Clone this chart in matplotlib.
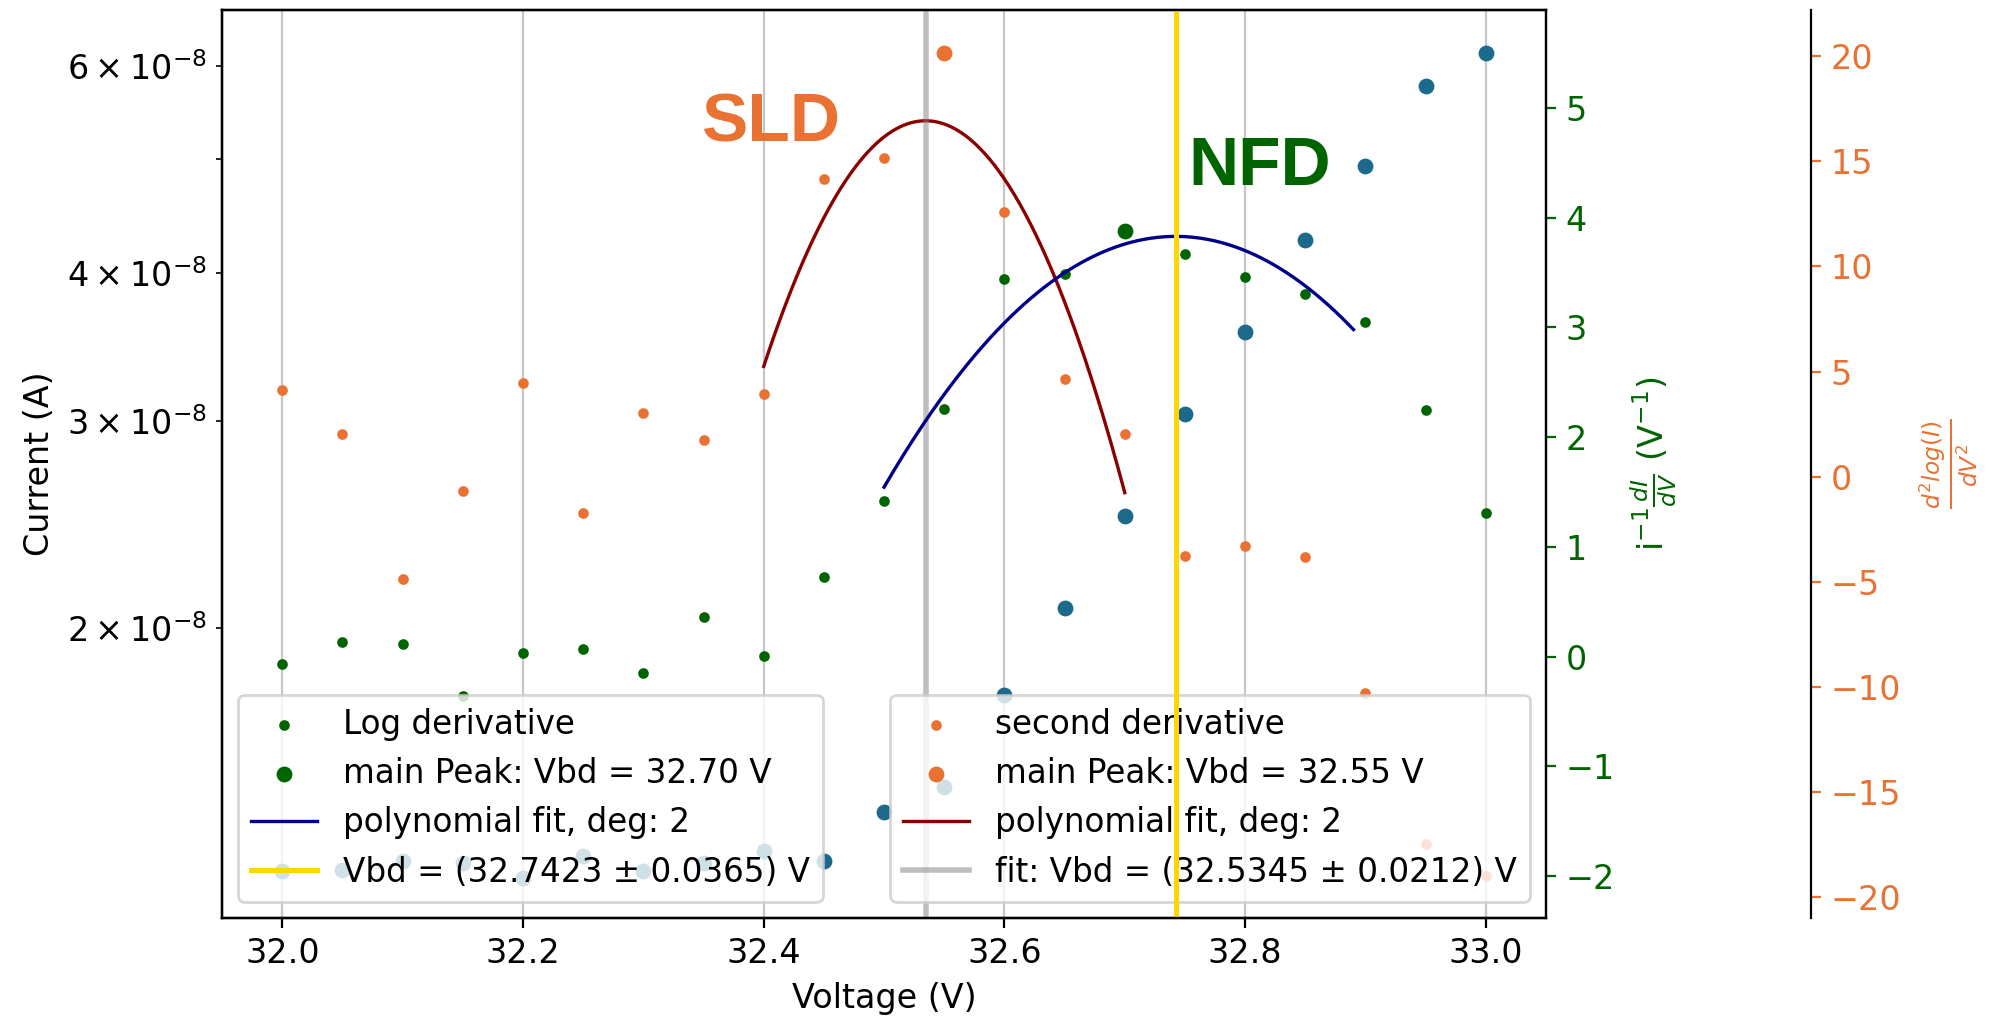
import numpy as np
import matplotlib
matplotlib.use("Agg")
import matplotlib.pyplot as plt

plt.rcParams['font.size'] = 12

# ---------------- data ----------------
voltage = [32.00, 32.05, 32.10, 32.15, 32.20, 32.25, 32.30, 32.35, 32.40, 32.45,
           32.50, 32.55, 32.60, 32.65, 32.70, 32.75, 32.80, 32.85, 32.90, 32.95, 33.00]

current = [1.246e-8, 1.247e-8, 1.271e-8, 1.265e-8, 1.229e-8, 1.282e-8, 1.246e-8,
           1.265e-8, 1.294e-8, 1.269e-8, 1.397e-8, 1.467e-8, 1.755e-8, 2.08e-8,
           2.49e-8, 3.04e-8, 3.57e-8, 4.27e-8, 4.93e-8, 5.77e-8, 6.15e-8]

log_deriv = [-0.07, 0.13, 0.12, -0.36, 0.03, 0.07, -0.15, 0.36, 0.01, 0.73,
             1.42, 2.26, 3.44, 3.49, 3.88, 3.67, 3.46, 3.30, 3.05, 2.25, 1.31]

second_deriv = [4.14, 2.02, -4.85, -0.68, 4.44, -1.73, 3.02, 1.72, 3.91, 14.15,
                15.15, 20.15, 12.57, 4.65, 2.02, -3.79, -3.31, -3.83, -10.3, -17.5, -19.0]

# main peaks
ld_peak_v, ld_peak_val = 32.70, 3.88
sd_peak_v, sd_peak_val = 32.55, 20.15

# quadratic fits (vertex form)
ld_fit_range = (32.50, 32.89)
ld_fit_vertex, ld_fit_top, ld_fit_curv = 32.7423, 3.828, -38.9
ld_fit_err = 0.0365
sd_fit_range = (32.40, 32.70)
sd_fit_vertex, sd_fit_top, sd_fit_curv = 32.5345, 16.93, -646.0
sd_fit_err = 0.0212

# ---------------- styling ----------------
c_current = '#1b6a8c'
c_green = '#006400'
c_orange = '#e97132'

fig = plt.figure(figsize=(9.95, 5.095), dpi=200)
ax = fig.add_axes([0.1116, 0.0991, 0.6653, 0.8911])

ax.scatter(voltage, current, s=22, color=c_current, zorder=2)
ax.set_yscale('log')
ax.set_ylim(1.136e-8, 6.69e-8)
ax.set_xlim(31.95, 33.05)
ax.grid(axis='x', color='#c6c6c6', lw=0.8)
ax.set_xlabel('Voltage (V)')
ax.set_ylabel('Current (A)')

# second derivative axis (offset spine)
ax3 = ax.twinx()
ax3.spines['right'].set_position(('axes', 1.2))
ax3.scatter(voltage, second_deriv, s=8, color=c_orange, label='second derivative')
ax3.scatter([sd_peak_v], [sd_peak_val], s=22, color=c_orange,
            label=f'main Peak: Vbd = {sd_peak_v:.2f} V')
xs = np.linspace(sd_fit_range[0], sd_fit_range[1], 200)
ax3.plot(xs, sd_fit_curv * (xs - sd_fit_vertex) ** 2 + sd_fit_top, color='darkred', lw=1.2,
         label='polynomial fit, deg: 2')
ax3.axvline(sd_fit_vertex, color='gray', alpha=0.5, lw=2,
            label=f'fit: Vbd = ({sd_fit_vertex:.4f} ± {sd_fit_err:.4f}) V')
ax3.set_ylim(-21.0, 22.2)
ax3.tick_params(axis='y', colors=c_orange)
ax3.set_ylabel(r'$\frac{d^2log(I)}{dV^2}$', color=c_orange)
ax3.yaxis.set_label_coords(1.281, 0.5)
ax3.legend(loc='lower right', fontsize=11.75)

# log derivative axis
ax2 = ax.twinx()
ax2.scatter(voltage, log_deriv, s=8, color=c_green, label='Log derivative')
ax2.scatter([ld_peak_v], [ld_peak_val], s=22, color=c_green,
            label=f'main Peak: Vbd = {ld_peak_v:.2f} V')
xs2 = np.linspace(ld_fit_range[0], ld_fit_range[1], 200)
ax2.plot(xs2, ld_fit_curv * (xs2 - ld_fit_vertex) ** 2 + ld_fit_top, color='darkblue', lw=1.2,
         label='polynomial fit, deg: 2')
ax2.axvline(ld_fit_vertex, color='gold', lw=1.8,
            label=f'Vbd = ({ld_fit_vertex:.4f} ± {ld_fit_err:.4f}) V')
ax2.set_ylim(-2.38, 5.89)
ax2.tick_params(axis='y', colors=c_green)
ax2.set_ylabel(r'i$^{-1}\frac{dI}{dV}$ (V$^{-1}$)', color=c_green)
ax2.yaxis.set_label_coords(1.062, 0.5)
ax2.legend(loc='lower left', fontsize=11.75)

ax2.text(0.415, 0.8755, 'SLD', transform=ax2.transAxes, ha='center', va='center',
         fontsize=25, fontweight='bold', color=c_orange, family='Liberation Sans')
ax2.text(0.784, 0.8266, 'NFD', transform=ax2.transAxes, ha='center', va='center',
         fontsize=25, fontweight='bold', color=c_green, family='Liberation Sans')

fig.savefig('out.png', dpi=200)
